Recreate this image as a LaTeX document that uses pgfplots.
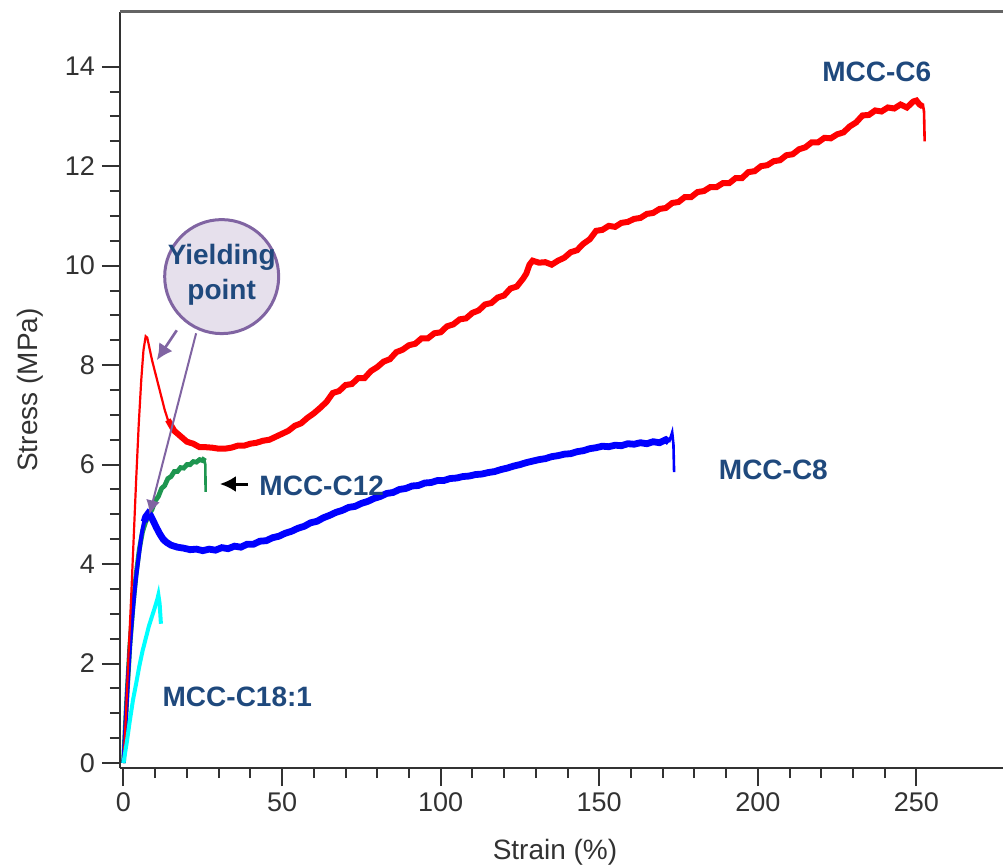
\documentclass[border=0pt]{standalone}
\usepackage{pgfplots}
\pgfplotsset{compat=1.18}
\usepackage{fontspec}
\setmainfont{Liberation Sans}
\usetikzlibrary{arrows.meta}
\definecolor{anno}{RGB}{31,73,125}
\definecolor{axgray}{RGB}{50,50,50}
\definecolor{topgray}{RGB}{100,100,100}
\definecolor{ypurple}{RGB}{128,100,162}
\definecolor{ylav}{RGB}{230,224,236}
\definecolor{cgreen}{RGB}{30,150,80}
\definecolor{ccyan}{RGB}{0,255,255}
\definecolor{cred}{RGB}{255,0,0}
\definecolor{cblue}{RGB}{0,0,255}
\begin{document}
\begin{tikzpicture}
\begin{axis}[
  scale only axis, width=441.5pt, height=378pt,
  xmin=-1.1, xmax=277.3, ymin=-0.1, ymax=15.1,
  axis x line=bottom, axis y line=left,
  axis line style={-, line width=1.2pt, color=axgray},
  xtick={0,50,...,250}, ytick={0,2,...,14},
  minor x tick num=4, minor y tick num=3,
  tick align=outside,
  major tick length=9pt, minor tick length=5pt,
  tick style={line width=1pt, color=axgray},
  ticklabel style={font=\fontsize{13.5}{16}\selectfont, text=axgray},
  /pgf/number format/assume math mode=true,
  clip=false,
]
% MCC-C12
\addplot[cgreen, line width=2.4pt] coordinates {
(0,0) (1,1.25) (2,2.35) (3,3.15) (4,3.8) (5,4.3) (6,4.65) (7,4.85) (8,4.98) (9,5.1) (10,5.27) (11,5.36) (12,5.52) (13,5.58) (14,5.72) (15,5.76) (16,5.86) (17,5.86) (18,5.94) (19,5.93) (20,6.00) (21,6.00) (22,6.06) (23,6.05) (24,6.10) (25,6.08) (25.6,6.14)
};
\addplot[cgreen, line width=1.3pt] coordinates {(25.4,6.12) (25.8,6.0) (25.9,5.45)};
% MCC-C8 rising part
\addplot[cblue, line width=2pt] coordinates {
(0,0) (0.5,0.6) (1,1.2) (1.5,1.8) (2,2.3) (2.5,2.75) (3,3.1) (3.5,3.45) (4,3.75) (4.5,4.0) (5,4.25) (5.5,4.5) (6,4.7) (6.5,4.85) (7,4.95) (7.8,5.02)
};
% MCC-C8 main part
\addplot[cblue, line width=3.4pt] coordinates {
(6.5,4.85) (7,4.95) (7.8,5.02) (8.5,4.98) (9.5,4.85) (10.5,4.72) (11.5,4.6) (12.5,4.5) (13.5,4.44) (15,4.38) (17,4.34) (19,4.32) (21,4.29) (23,4.3) (25,4.27) (27,4.3) (29,4.28) (31,4.33) (33,4.31) (35,4.36) (37,4.34) (39,4.4) (41,4.4) (43,4.46) (45,4.47) (47,4.53) (49,4.56) (51,4.62) (53,4.66) (55,4.72) (57,4.76) (59,4.83) (61,4.86) (63,4.93) (65,4.98) (67,5.04) (69,5.08) (71,5.14) (73,5.16) (75,5.22) (77,5.26) (79,5.32) (81,5.36) (83,5.42) (85,5.44) (87,5.5) (89,5.52) (91,5.57) (93,5.58) (95,5.63) (97,5.64) (99,5.68) (101,5.68) (103,5.72) (105,5.73) (107,5.76) (109,5.77) (111,5.8) (113,5.81) (115,5.84) (117,5.86) (119,5.9) (121,5.93) (123,5.97) (125,6.0) (127,6.04) (129,6.07) (131,6.1) (133,6.12) (135,6.16) (137,6.18) (139,6.21) (141,6.22) (143,6.26) (145,6.28) (147,6.32) (149,6.34) (151,6.37) (153,6.36) (155,6.39) (157,6.38) (159,6.42) (161,6.41) (163,6.44) (165,6.42) (167,6.46) (169,6.44) (171,6.5) (172,6.45)
};
\addplot[cblue, line width=1.3pt] coordinates {(172,6.45) (173,6.65) (173.4,6.4) (173.6,5.85)};
% MCC-C6 rising part (thin)
\addplot[cred, line width=1.1pt] coordinates {
(0,0) (0.8,1) (1.6,2.2) (2.4,3.3) (3.2,4.5) (4,5.7) (4.8,6.8) (5.6,7.7) (6.3,8.3) (7.0,8.58) (7.5,8.55) (8,8.4) (9,8.1) (10,7.85) (11,7.6) (12,7.35) (13,7.1) (14,6.9) (15,6.78)
};
% MCC-C6 main part (noisy band)
\addplot[cred, line width=3pt] coordinates {
(14,6.9) (16,6.68) (18,6.57) (20,6.46) (22,6.42) (24,6.35) (26,6.35) (28,6.34) (30,6.32) (32,6.32) (34,6.34) (36,6.38) (38,6.38) (40,6.42) (42,6.44) (44,6.48) (46,6.50) (48,6.56) (50,6.62) (52,6.68) (54,6.78) (56,6.83) (58,6.94) (60,7.03) (62,7.14) (64,7.26) (66,7.44) (68,7.48) (70,7.60) (72,7.62) (74,7.74) (76,7.74) (78,7.88) (80,7.96) (82,8.07) (84,8.12) (86,8.26) (88,8.31) (90,8.40) (92,8.43) (94,8.54) (96,8.54) (98,8.64) (100,8.66) (102,8.78) (104,8.82) (106,8.92) (108,8.94) (110,9.05) (112,9.10) (114,9.22) (116,9.25) (118,9.36) (120,9.40) (122,9.54) (124,9.58) (126,9.74) (127,9.84) (128,10.02) (129,10.10) (131,10.06) (133,10.07) (135,10.02) (137,10.10) (139,10.16) (141,10.27) (143,10.31) (145,10.44) (147,10.53) (149,10.70) (151,10.72) (153,10.80) (155,10.78) (157,10.86) (159,10.88) (161,10.94) (163,10.96) (165,11.04) (167,11.06) (169,11.14) (171,11.16) (173,11.26) (175,11.28) (177,11.38) (179,11.38) (181,11.48) (183,11.50) (185,11.58) (187,11.58) (189,11.66) (191,11.66) (193,11.76) (195,11.76) (197,11.88) (199,11.90) (201,12.00) (203,12.02) (205,12.10) (207,12.12) (209,12.22) (211,12.24) (213,12.34) (215,12.38) (217,12.48) (219,12.48) (221,12.57) (223,12.56) (225,12.64) (227,12.68) (229,12.80) (231,12.88) (233,13.02) (235,13.03) (237,13.12) (239,13.10) (241,13.18) (243,13.16) (245,13.24) (247,13.18) (249,13.30) (250,13.32) (251,13.24) (252,13.2)
};
\addplot[cred, line width=1.3pt] coordinates {(252,13.25) (252.4,13.1) (252.6,12.5)};
% MCC-C18:1
\addplot[ccyan, line width=2pt] coordinates {
(0,0) (1,0.4) (2,0.85) (3,1.27) (4,1.6) (5,1.95) (6,2.25) (7,2.5) (8,2.75) (9,2.95) (10,3.15) (10.7,3.3) (11,3.38) (11.4,3.2) (11.8,2.8)
};
% top frame line
\draw[line width=1.5pt, topgray] (rel axis cs:0,1) -- (rel axis cs:1,1);
% annotations
\node[font=\fontsize{14}{16}\selectfont\bfseries, text=anno] at (axis cs:237.5,13.9) {MCC-C6};
\node[font=\fontsize{14}{16}\selectfont\bfseries, text=anno] at (axis cs:204.9,5.89) {MCC-C8};
\node[font=\fontsize{14}{16}\selectfont\bfseries, text=anno] at (axis cs:62.5,5.57) {MCC-C12};
\node[font=\fontsize{14}{16}\selectfont\bfseries, text=anno] at (axis cs:35.9,1.33) {MCC-C18:1};
\draw[-{Latex[length=8pt,width=8pt]}, black, line width=1.5pt] (axis cs:39.3,5.61) -- (axis cs:30.4,5.61);
\node[circle, draw=ypurple, fill=ylav, line width=1.5pt, minimum size=57pt, inner sep=0pt] at (axis cs:30.96,9.78) {};
\node[font=\fontsize{14}{17.5}\selectfont\bfseries, text=anno, align=center] at (axis cs:30.96,9.82) {Yielding\\point};
\draw[-{Latex[length=8pt,width=8pt]}, ypurple, line width=1.3pt] (axis cs:16.8,8.7) -- (axis cs:10.5,8.1);
\draw[-{Latex[length=7pt,width=7pt]}, ypurple, line width=1pt] (axis cs:22.9,8.64) -- (axis cs:8.2,5.0);
\end{axis}
\node[rotate=90, font=\fontsize{14}{16}\selectfont, text=axgray] at (-45pt,189pt) {Stress (MPa)};
\node[font=\fontsize{14}{16}\selectfont, text=axgray] at (217.5pt,-42pt) {Strain (\%)};
\pgfresetboundingbox
\useasboundingbox (-60pt,-48pt) rectangle (441.5pt,384pt);
\end{tikzpicture}
\end{document}
